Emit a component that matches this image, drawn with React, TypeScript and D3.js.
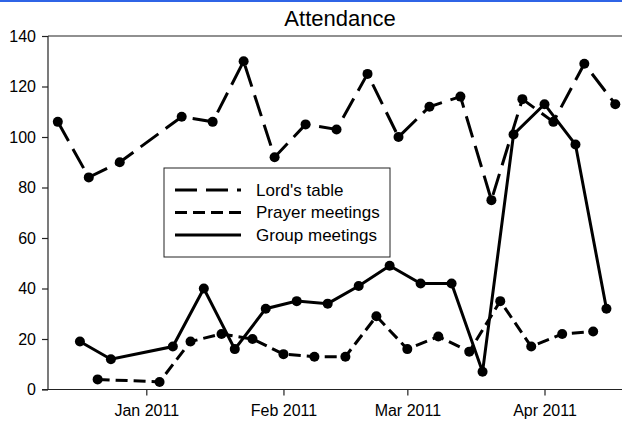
import * as d3 from 'd3';
import { useEffect, useRef } from 'react';

// Lord's table: Sundays
const lordsDates = [
  '2010-12-12', '2010-12-19', '2010-12-26', '2011-01-09', '2011-01-16', '2011-01-23',
  '2011-01-30', '2011-02-06', '2011-02-13', '2011-02-20', '2011-02-27', '2011-03-06',
  '2011-03-13', '2011-03-20', '2011-03-27', '2011-04-03', '2011-04-10', '2011-04-17',
];
const lordsValues = [106, 84, 90, 108, 106, 130, 92, 105, 103, 125, 100, 112, 116, 75, 115, 106, 129, 113];

// Prayer meetings: Tuesdays
const prayerDates = [
  '2010-12-21', '2011-01-04', '2011-01-11', '2011-01-18', '2011-01-25', '2011-02-01',
  '2011-02-08', '2011-02-15', '2011-02-22', '2011-03-01', '2011-03-08', '2011-03-15',
  '2011-03-22', '2011-03-29', '2011-04-05', '2011-04-12',
];
const prayerValues = [4, 3, 19, 22, 20, 14, 13, 13, 29, 16, 21, 15, 35, 17, 22, 23];

// Group meetings: Fridays
const groupDates = [
  '2010-12-17', '2010-12-24', '2011-01-07', '2011-01-14', '2011-01-21', '2011-01-28',
  '2011-02-04', '2011-02-11', '2011-02-18', '2011-02-25', '2011-03-04', '2011-03-11',
  '2011-03-18', '2011-03-25', '2011-04-01', '2011-04-08', '2011-04-15',
];
const groupValues = [19, 12, 17, 40, 16, 32, 35, 34, 41, 49, 42, 42, 7, 101, 113, 97, 32];

const yTicks = [0, 20, 40, 60, 80, 100, 120, 140];
const monthTicks = ['2011-01-01', '2011-02-01', '2011-03-01', '2011-04-01'];

const seriesNames = ["Lord's table", 'Prayer meetings', 'Group meetings'];

const parse = (s: string) => {
  const [y, m, d] = s.split('-').map(Number);
  return new Date(y, m - 1, d);
};

const App = () => {
  const ref = useRef<SVGSVGElement>(null);
  const width = 622;
  const height = 421;

  useEffect(() => {
    const svg = d3.select(ref.current);
    svg.selectAll('*').remove();
    const font = '"Liberation Sans", Arial, sans-serif';

    const x = d3
      .scaleTime()
      .domain([parse('2011-01-01'), parse('2011-04-01')])
      .range([146.3, 544.5]);
    const y = d3.scaleLinear().domain([0, 140]).range([389.5, 36]);
    const left = 48;
    const right = 625;

    svg.append('rect').attr('x', 0).attr('y', 0).attr('width', width).attr('height', 2).attr('fill', '#2f64e6');

    svg
      .append('text')
      .attr('x', 340)
      .attr('y', 26)
      .attr('text-anchor', 'middle')
      .style('font-family', font)
      .style('font-size', '22px')
      .text('Attendance');

    // y axis
    const yAxis = svg
      .append('g')
      .attr('transform', `translate(${left},0)`)
      .call(d3.axisLeft(y).tickValues(yTicks).tickSize(6).tickPadding(6));
    yAxis.select('.domain').remove();
    yAxis.selectAll('line').attr('stroke', '#222').attr('stroke-width', 1.2);
    yAxis.selectAll('text').style('font-family', font).style('font-size', '16px').attr('fill', '#000');

    // x axis
    const xAxis = svg
      .append('g')
      .attr('transform', `translate(0,${y(0)})`)
      .call(
        d3
          .axisBottom(x)
          .tickValues(monthTicks.map(parse))
          .tickFormat((d) => d3.timeFormat('%b %Y')(d as Date))
          .tickSize(6)
          .tickPadding(9)
      );
    xAxis.select('.domain').remove();
    xAxis.selectAll('line').attr('stroke', '#222').attr('stroke-width', 1.2);
    xAxis.selectAll('text').style('font-family', font).style('font-size', '16px').attr('fill', '#000');

    // frame lines
    const frame = svg.append('g').attr('stroke', '#222').attr('stroke-width', 1.2);
    frame.append('line').attr('x1', left - 6).attr('x2', right).attr('y1', y(0)).attr('y2', y(0));
    frame.append('line').attr('x1', left).attr('x2', right).attr('y1', y(140)).attr('y2', y(140));
    frame.append('line').attr('x1', left).attr('x2', left).attr('y1', y(0)).attr('y2', y(140));

    const series = [
      { dates: lordsDates, values: lordsValues, dash: '22 9' },
      { dates: prayerDates, values: prayerValues, dash: '12 6' },
      { dates: groupDates, values: groupValues, dash: null },
    ];

    const line = d3
      .line<[Date, number]>()
      .x((d) => x(d[0]))
      .y((d) => y(d[1]));

    series.forEach((s) => {
      const pts: [Date, number][] = s.dates.map((d, i) => [parse(d), s.values[i]]);
      svg
        .append('path')
        .datum(pts)
        .attr('d', line)
        .attr('fill', 'none')
        .attr('stroke', '#000')
        .attr('stroke-width', 3)
        .attr('stroke-dasharray', s.dash);
      svg
        .append('g')
        .selectAll('circle')
        .data(pts)
        .enter()
        .append('circle')
        .attr('cx', (d) => x(d[0]))
        .attr('cy', (d) => y(d[1]))
        .attr('r', 5)
        .attr('fill', '#000');
    });

    // legend
    const lg = svg.append('g');
    lg.append('rect')
      .attr('x', 164)
      .attr('y', 168)
      .attr('width', 226)
      .attr('height', 89)
      .attr('fill', '#fff')
      .attr('stroke', '#222')
      .attr('stroke-width', 1);
    seriesNames.forEach((name, i) => {
      const ry = 190 + i * 22.5;
      lg.append('line')
        .attr('x1', 175)
        .attr('x2', 241)
        .attr('y1', ry)
        .attr('y2', ry)
        .attr('stroke', '#000')
        .attr('stroke-width', 3)
        .attr('stroke-dasharray', series[i].dash);
      lg.append('text')
        .attr('x', 256)
        .attr('y', ry)
        .attr('dy', '0.35em')
        .style('font-family', font)
        .style('font-size', '17px')
        .text(name);
    });
  }, []);

  return (
    <svg
      ref={ref}
      width={width}
      height={height}
      style={{ position: 'absolute', left: 0, top: 0, background: '#fff' }}
    ></svg>
  );
};

export default App;
